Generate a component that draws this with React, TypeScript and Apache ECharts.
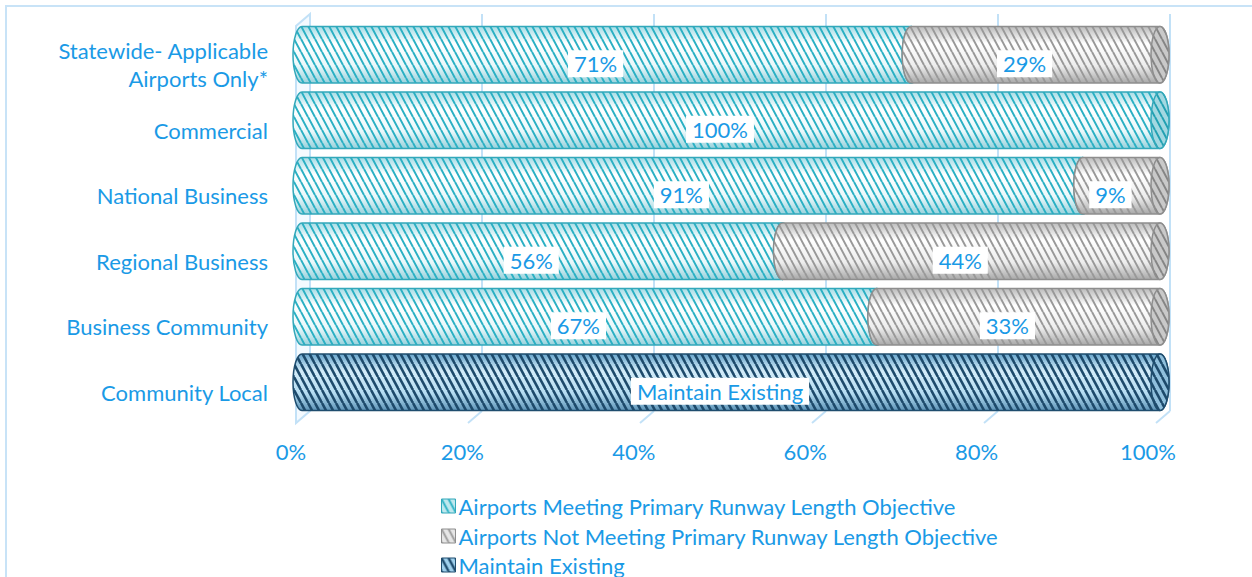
import React, { useEffect, useRef } from "react";
import * as echarts from "echarts";

// ---------- data ----------
const categories = [
  "Community Local",
  "Business Community",
  "Regional Business",
  "National Business",
  "Commercial",
  "Statewide- Applicable\nAirports Only*",
];
const meeting: (number | null)[] = [null, 67, 56, 91, 100, 71];
const notMeeting: (number | null)[] = [null, 33, 44, 9, 0, 29];
const maintain: (number | null)[] = [100, null, null, null, null, null];
const seriesNames = [
  "Airports Meeting Primary Runway Length Objective",
  "Airports Not Meeting Primary Runway Length Objective",
  "Maintain Existing",
];
const xTicks = [0, 20, 40, 60, 80, 100];

// ---------- style ----------
const BLUE_TEXT = "#1a9ae6";
const GRID_BLUE = "#c2e1f7";
const FONT = "Lato";
const FS = 22;

function stripeTile(bg: string | null, fg: string, w: number, h: number, lw: number) {
  const c = document.createElement("canvas");
  c.width = w;
  c.height = h;
  const ctx = c.getContext("2d")!;
  if (bg) {
    ctx.fillStyle = bg;
    ctx.fillRect(0, 0, w, h);
  }
  ctx.strokeStyle = fg;
  ctx.lineWidth = lw;
  for (const dx of [-w, 0, w]) {
    ctx.beginPath();
    ctx.moveTo(dx, 0);
    ctx.lineTo(dx + w, h);
    ctx.stroke();
  }
  return c.toDataURL();
}

function pattern(bg: string | null, fg: string, lw = 2) {
  const w = 7, h = 13;
  return { image: stripeTile(bg, fg, w, h, lw), repeat: "repeat", imageWidth: w, imageHeight: h };
}

function vGrad(stops: [number, string][]) {
  return {
    type: "linear", x: 0, y: 0, x2: 0, y2: 1,
    colorStops: stops.map(([offset, color]) => ({ offset, color })),
  };
}

const styles = [
  {
    base: vGrad([[0, "#a9dde6"], [0.3, "#ffffff"], [0.7, "#eaf8fa"], [1, "#99d2dc"]]),
    stripes: pattern(null, "#2bb0c4", 2),
    face: pattern("#a3d8e1", "#23a0b2", 2),
    stroke: "#33a8ba",
    legend: pattern("#bfe8ee", "#2eb2c5", 2),
  },
  {
    base: vGrad([[0, "#bdbdbd"], [0.3, "#ffffff"], [0.7, "#ededed"], [1, "#a9a9a9"]]),
    stripes: pattern(null, "#999999", 2),
    face: pattern("#c9c9c9", "#858585", 2),
    stroke: "#8e8e8e",
    legend: pattern("#e6e6e6", "#9c9c9c", 2),
  },
  {
    base: vGrad([[0, "#6aa6cc"], [0.3, "#d3ecf9"], [0.7, "#b4dcf1"], [1, "#5f95b8"]]),
    stripes: pattern(null, "#1d4a6b", 2.6),
    face: pattern("#8fbfdc", "#1d4a6b", 2.6),
    stroke: "#1f4d6e",
    legend: pattern("#9fd0ec", "#1d4a6b", 2.4),
  },
];

function buildData(idx: number) {
  const out: any[] = [];
  categories.forEach((_, i) => {
    let start = 0;
    const vals = [meeting[i], notMeeting[i], maintain[i]];
    for (let k = 0; k < idx; k++) start += vals[k] || 0;
    const v = vals[idx];
    if (v == null || v === 0) return;
    const text = idx === 2 ? "Maintain Existing" : `${v}%`;
    out.push({ value: [start, i, start + v], label: text });
  });
  return out;
}

function makeRender(idx: number) {
  const st = styles[idx];
  const data = buildData(idx);
  return (params: any, api: any) => {
    const start = api.value(0);
    const cat = api.value(1);
    const end = api.value(2);
    const p0 = api.coord([start, cat]);
    const p1 = api.coord([end, cat]);
    const band = api.size([0, 1])[1];
    const h = band * 0.86;
    const ry = h / 2;
    const rx = 9;
    const yc = p0[1];
    const yT = yc - ry;
    const yB = yc + ry;
    const x0 = p0[0];
    const x1 = p1[0];
    const d = `M${x0},${yT} L${x1},${yT} A${rx},${ry} 0 0 1 ${x1},${yB} L${x0},${yB} A${rx},${ry} 0 0 1 ${x0},${yT} Z`;
    const text = data[params.dataIndex].label;
    return {
      type: "group",
      children: [
        { type: "path", shape: { pathData: d }, style: { fill: st.base } },
        { type: "path", shape: { pathData: d }, style: { fill: st.stripes, stroke: st.stroke, lineWidth: 1.5 } },
        {
          type: "ellipse",
          shape: { cx: x1, cy: yc, rx, ry },
          style: { fill: st.face, stroke: st.stroke, lineWidth: 1.5 },
        },
        {
          type: "text",
          x: (x0 + x1) / 2 - 11,
          y: yc + 9,
          z2: 100,
          style: {
            text,
            fill: BLUE_TEXT,
            fontSize: FS,
            fontFamily: FONT,
            align: "center",
            verticalAlign: "middle",
            backgroundColor: "#ffffff",
            padding: [3, 6, 2, 6],
          },
        },
      ],
    };
  };
}

export default function App() {
  const ref = useRef<HTMLDivElement>(null);
  useEffect(() => {
    if (!ref.current) return;
    const chart = echarts.init(ref.current, undefined, { renderer: "svg" });
    const legendTops = [490, 520, 549];
    const option: any = {
      animation: false,
      backgroundColor: "#ffffff",
      textStyle: { fontFamily: FONT },
      grid: [
        { left: 302, right: 92, top: 22, bottom: 162 }, // bars
        { left: 291, right: 104, top: 32, bottom: 152 }, // front labels
        { left: 310, right: 82, top: 14, bottom: 166 }, // back wall gridlines
      ],
      xAxis: [
        { gridIndex: 0, type: "value", min: 0, max: 100, interval: 20, show: false },
        {
          gridIndex: 1, type: "value", min: 0, max: 100, interval: 20,
          axisLine: { show: false }, axisTick: { show: false }, splitLine: { show: false },
          axisLabel: { formatter: "{value}%", color: BLUE_TEXT, fontSize: FS, fontFamily: FONT, margin: 15 },
        },
        {
          gridIndex: 2, type: "value", min: 0, max: 100, interval: 20,
          axisLine: { show: false }, axisTick: { show: false }, axisLabel: { show: false },
          splitLine: { show: true, lineStyle: { color: GRID_BLUE, width: 2 } },
        },
      ],
      yAxis: [
        { gridIndex: 0, type: "category", data: categories, show: false },
        {
          gridIndex: 1, type: "category", data: categories,
          axisLine: { show: false }, axisTick: { show: false },
          axisLabel: { color: BLUE_TEXT, fontSize: FS, fontFamily: FONT, margin: 23, lineHeight: 28 },
        },
        { gridIndex: 2, type: "value", show: false },
      ],
      legend: seriesNames.map((name, i) => ({
        orient: "vertical",
        left: 436,
        top: legendTops[i],
        itemWidth: 14,
        itemHeight: 14,
        itemGap: 4,
        textStyle: { color: BLUE_TEXT, fontSize: FS, fontFamily: FONT, padding: [0, 0, 0, -2] },
        data: [
          {
            name,
            icon: "rect",
            itemStyle: { color: styles[i].legend, borderColor: styles[i].stroke, borderWidth: 1 },
          },
        ],
      })),
      series: seriesNames.map((name, i) => ({
        name,
        type: "custom",
        coordinateSystem: "cartesian2d",
        xAxisIndex: 0,
        yAxisIndex: 0,
        encode: { x: [0, 2], y: 1 },
        itemStyle: { color: styles[i].stroke },
        data: buildData(i),
        renderItem: makeRender(i),
      })),
    };
    chart.setOption(option);

    // 3D decoration: wall and floor diagonals computed from the back axis
    const graphics: any[] = [
      {
        type: "rect",
        shape: { x: 6, y: 6, width: 1300, height: 640 },
        style: { fill: "none", stroke: "#c8e3f7", lineWidth: 2 },
        z: -10,
      },
    ];
    const yBackTop = 14;
    const yBackBot = 411;
    const depthX = -14;
    const depthY = 12;
    const xb0 = chart.convertToPixel({ xAxisIndex: 2 } as any, 0) as number;
    graphics.push({
      type: "polygon",
      shape: {
        points: [
          [xb0, yBackTop],
          [xb0 + depthX, yBackTop + depthY],
          [xb0 + depthX, yBackBot + depthY],
          [xb0, yBackBot],
        ],
      },
      style: { fill: "#f4faff", stroke: GRID_BLUE, lineWidth: 2 },
      z: -5,
    });
    xTicks.forEach((v) => {
      if (v === 0) return;
      const xb = chart.convertToPixel({ xAxisIndex: 2 } as any, v) as number;
      graphics.push({
        type: "line",
        shape: { x1: xb, y1: yBackBot, x2: xb + depthX, y2: yBackBot + depthY },
        style: { stroke: GRID_BLUE, lineWidth: 2 },
        z: -5,
      });
    });
    chart.setOption({ graphic: graphics });

    return () => chart.dispose();
  }, []);
  return (
    <div
      ref={ref}
      style={{ position: "absolute", left: 0, top: 0, width: 1252, height: 577 }}
    />
  );
}
